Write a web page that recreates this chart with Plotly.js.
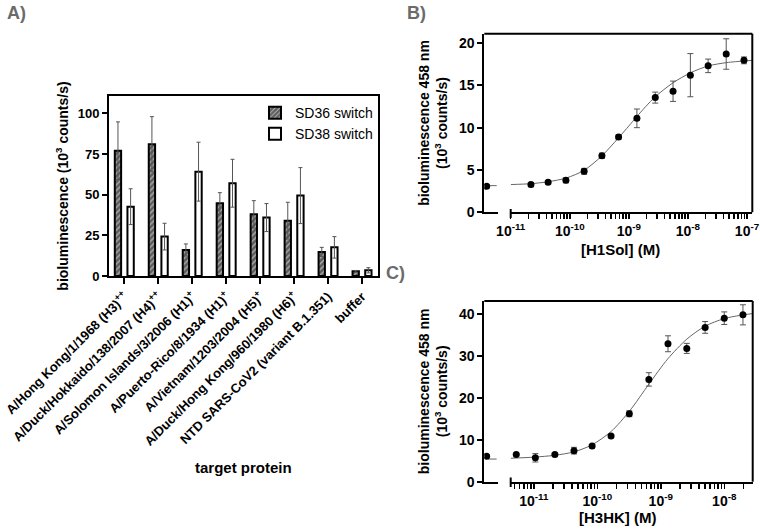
<!DOCTYPE html>
<html><head><meta charset="utf-8">
<script src="https://cdn.plot.ly/plotly-3.0.1.min.js"></script>
<style>html,body{margin:0;padding:0;background:#fff}#chart{width:760px;height:529px}</style>
</head><body><div id="chart"></div>
<script>
// ---------- Panel A data ----------
const categories = [
  "A/Hong Kong/1/1968 (H3)<sup>++</sup>",
  "A/Duck/Hokkaido/138/2007 (H4)<sup>++</sup>",
  "A/Solomon Islands/3/2006 (H1)<sup>+</sup>",
  "A/Puerto-Rico/8/1934 (H1)<sup>+</sup>",
  "A/Vietnam/1203/2004 (H5)<sup>+</sup>",
  "A/Duck/Hong Kong/960/1980 (H6)<sup>+</sup>",
  "NTD SARS-CoV2 (variant B.1.351)",
  "buffer"
];
const sd36 = [77, 81, 16, 44.7, 37.9, 34, 14.8, 2.9];
const sd36Err = [17.7, 16.9, 3.7, 6.5, 8.4, 11.3, 2.8, 0.5];
const sd38 = [42.6, 24.2, 64.1, 57, 35.9, 49.4, 17.6, 3.5];
const sd38Err = [11, 8.2, 18.1, 14.7, 8.6, 17.2, 6.6, 1.6];
const yTicksA = [0, 25, 50, 75, 100];

// ---------- Panel B data ([H1Sol]) ----------
const bZeroX = [0];
const bZeroSignal = [3.07];
const bZeroErr = [0.2];
const bConc = [2.2e-11, 4.3e-11, 8.6e-11, 1.75e-10, 3.5e-10, 6.7e-10, 1.37e-9, 2.8e-9, 5.6e-9, 1.1e-8, 2.2e-8, 4.45e-8, 8.9e-8];
const bSignal = [3.27, 3.54, 3.78, 4.84, 6.69, 8.9, 11.1, 13.55, 14.3, 16.2, 17.3, 18.7, 17.95];
const bErr = [0.25, 0.2, 0.3, 0.35, 0.3, 0.25, 1.1, 0.65, 1.2, 2.55, 0.8, 1.8, 0.4];
const bFitZeroX = [0.14, 0.86];
const bFitZeroY = [3.15, 3.15];
const bFitConc = [1e-11, 2.19e-11, 4.37e-11, 8.7e-11, 1.74e-10, 3.47e-10, 6.6e-10, 1e-9, 1.38e-9, 2.75e-9, 5.6e-9, 1.12e-8, 2.24e-8, 4.47e-8, 8.9e-8, 1.23e-7];
const bFitY = [3.28, 3.38, 3.62, 4.05, 4.95, 6.65, 8.75, 10.2, 11.35, 13.6, 15.3, 16.5, 17.3, 17.68, 17.88, 17.95];
const bTicks = [1e-11, 1e-10, 1e-9, 1e-8, 1e-7];
const bTickText = ["10<sup>-11</sup>", "10<sup>-10</sup>", "10<sup>-9</sup>", "10<sup>-8</sup>", "10<sup>-7</sup>"];
const yTicksB = [0, 5, 10, 15, 20];

// ---------- Panel C data ([H3HK]) ----------
const cZeroX = [0];
const cZeroSignal = [6.1];
const cZeroErr = [0.3];
const cConc = [5.3e-12, 1.06e-11, 2.15e-11, 4.3e-11, 8.3e-11, 1.65e-10, 3.2e-10, 6.5e-10, 1.3e-9, 2.57e-9, 5e-9, 1e-8, 1.97e-8];
const cSignal = [6.5, 5.7, 6.5, 7.4, 8.5, 10.9, 16.2, 24.4, 32.9, 31.8, 36.8, 39.0, 39.8];
const cErr = [0.3, 1.0, 0.3, 0.8, 0.4, 0.3, 0.7, 1.6, 1.9, 1.2, 1.4, 1.5, 2.4];
const cFitZeroX = [0.14, 0.86];
const cFitZeroY = [5.4, 5.4];
const cFitConc = [4.34e-12, 1e-11, 2.14e-11, 4.27e-11, 8.3e-11, 1.66e-10, 3.24e-10, 6.46e-10, 1.29e-9, 2.57e-9, 5e-9, 1e-8, 2e-8, 2.8e-8];
const cFitY = [5.6, 5.85, 6.3, 7.1, 8.8, 12.0, 16.9, 23.2, 29.3, 34.0, 37.1, 38.9, 39.8, 40.1];
const cTicks = [1e-11, 1e-10, 1e-9, 1e-8];
const cTickText = ["10<sup>-11</sup>", "10<sup>-10</sup>", "10<sup>-9</sup>", "10<sup>-8</sup>"];
const yTicksC = [0, 10, 20, 30, 40];

// ---------- styling / layout ----------
const FONT = "Liberation Sans, Arial, sans-serif";
const W = 760, H = 529;
const px = v => v / W;
const py = v => (H - v) / H;

// major decade ticks plus unlabeled minor log ticks (2..9 per decade)
function logTicks(majors, labels, fromExp, toExp) {
  const vals = majors.slice(), text = labels.slice();
  for (let e = fromExp; e <= toExp; e++) {
    for (let k = 2; k <= 9; k++) { vals.push(k * Math.pow(10, e)); text.push(""); }
  }
  return {vals, text};
}
const bLogTicks = logTicks(bTicks, bTickText, -11, -8);
const cLogTicks = logTicks(cTicks, cTickText, -12, -8);

const domA = {x: [px(109), px(378)], y: [py(276), py(96)]};
const domB = {x1: [px(484.3), px(498.3)], x2: [px(510.7), px(752.3)], y: [py(212.3), py(33.7)]};
const domC = {x1: [px(484.3), px(498.3)], x2: [px(510.7), px(752.7)], y: [py(481.7), py(301)]};
const rangeB = [-11, -6.91];
const rangeC = [-11.363, -7.552];

const errStyle = {type: "data", color: "#555", thickness: 1, width: 3};
const markerDot = {color: "black", size: 7};
const fitLine = {color: "#666", width: 1};

const traces = [
  {type: "bar", name: "SD36 switch", x: categories, y: sd36, xaxis: "x", yaxis: "y",
   marker: {color: "#5c5c5c", line: {color: "black", width: 2},
            pattern: {shape: "/", fillmode: "replace", bgcolor: "#5c5c5c", fgcolor: "#b4b4b4", size: 4, solidity: 0.3}},
   error_y: {type: "data", array: sd36Err, color: "#555", thickness: 1, width: 2}},
  {type: "bar", name: "SD38 switch", x: categories, y: sd38, xaxis: "x", yaxis: "y",
   marker: {color: "white", line: {color: "black", width: 2}},
   error_y: {type: "data", array: sd38Err, color: "#555", thickness: 1, width: 2}},

  // B
  {type: "scatter", mode: "lines", x: bFitZeroX, y: bFitZeroY, xaxis: "x2", yaxis: "y2", line: fitLine, showlegend: false, hoverinfo: "skip"},
  {type: "scatter", mode: "markers", x: bZeroX, y: bZeroSignal, xaxis: "x2", yaxis: "y2", marker: markerDot,
   error_y: Object.assign({array: bZeroErr}, errStyle), showlegend: false},
  {type: "scatter", mode: "lines", x: bFitConc, y: bFitY, xaxis: "x3", yaxis: "y2", line: Object.assign({shape: "spline", smoothing: 0.8}, fitLine), showlegend: false, hoverinfo: "skip"},
  {type: "scatter", mode: "markers", x: bConc, y: bSignal, xaxis: "x3", yaxis: "y2", marker: markerDot,
   error_y: Object.assign({array: bErr}, errStyle), showlegend: false},

  // C
  {type: "scatter", mode: "lines", x: cFitZeroX, y: cFitZeroY, xaxis: "x4", yaxis: "y3", line: fitLine, showlegend: false, hoverinfo: "skip"},
  {type: "scatter", mode: "markers", x: cZeroX, y: cZeroSignal, xaxis: "x4", yaxis: "y3", marker: markerDot,
   error_y: Object.assign({array: cZeroErr}, errStyle), showlegend: false},
  {type: "scatter", mode: "lines", x: cFitConc, y: cFitY, xaxis: "x5", yaxis: "y3", line: Object.assign({shape: "spline", smoothing: 0.8}, fitLine), showlegend: false, hoverinfo: "skip"},
  {type: "scatter", mode: "markers", x: cConc, y: cSignal, xaxis: "x5", yaxis: "y3", marker: markerDot,
   error_y: Object.assign({array: cErr}, errStyle), showlegend: false}
];

const tickFontBig = {family: FONT, size: 14, color: "black", weight: "bold"};
const baseAxis = {showgrid: false, zeroline: false, showline: true, linecolor: "black", linewidth: 2,
                  ticks: "outside", tickcolor: "black", tickwidth: 2, ticklen: 5, automargin: false, fixedrange: true};

function segAxis1(domain, anchor) {
  return Object.assign({}, baseAxis, {domain: domain, anchor: anchor, range: [-0.2, 1], showticklabels: false, ticks: ""});
}
function segAxis2(domain, anchor, range, t) {
  return Object.assign({}, baseAxis, {domain: domain, anchor: anchor, type: "log", range: range,
    tickmode: "array", tickvals: t.vals, ticktext: t.text, ticklen: 5, tickwidth: 1.5, tickfont: tickFontBig});
}

const layout = {
  width: W, height: H,
  margin: {l: 0, r: 0, t: 0, b: 0},
  paper_bgcolor: "white", plot_bgcolor: "rgba(0,0,0,0)",
  font: {family: FONT, color: "black"},
  barmode: "group", bargap: 0.255, bargroupgap: 0.5,
  showlegend: true,
  legend: {x: domA.x[1], xanchor: "right", y: domA.y[1] - 0.002, yanchor: "top",
           font: {family: FONT, size: 14, color: "black"}, bgcolor: "rgba(0,0,0,0)", tracegroupgap: 2},
  xaxis: Object.assign({}, baseAxis, {domain: domA.x, anchor: "y", range: [-0.45, 7.47], mirror: true,
           tickangle: -45, ticklen: 6, tickfont: {family: FONT, size: 13, color: "black", weight: "bold"}}),
  yaxis: Object.assign({}, baseAxis, {domain: domA.y, anchor: "x", range: [0, 110.6], mirror: true,
           tickmode: "array", tickvals: yTicksA, tickfont: {family: FONT, size: 13, color: "black", weight: "bold"},
           title: {text: "bioluminescence (10<sup>3</sup> counts/s)", standoff: 6, font: {family: FONT, size: 14, color: "black", weight: "bold"}}}),

  xaxis2: segAxis1(domB.x1, "y2"),
  xaxis3: segAxis2(domB.x2, "y2", rangeB, bLogTicks),
  yaxis2: Object.assign({}, baseAxis, {domain: domB.y, anchor: "x2", range: [0, 21.1],
           tickmode: "array", tickvals: yTicksB, tickfont: tickFontBig,
           title: {text: "bioluminescence 458 nm<br>(10<sup>3</sup> counts/s)", standoff: 8, font: {family: FONT, size: 14, color: "black", weight: "bold"}}}),

  xaxis4: segAxis1(domC.x1, "y3"),
  xaxis5: segAxis2(domC.x2, "y3", rangeC, cLogTicks),
  yaxis3: Object.assign({}, baseAxis, {domain: domC.y, anchor: "x4", range: [0, 43.1],
           tickmode: "array", tickvals: yTicksC, tickfont: tickFontBig,
           title: {text: "bioluminescence 458 nm<br>(10<sup>3</sup> counts/s)", standoff: 8, font: {family: FONT, size: 14, color: "black", weight: "bold"}}}),

  shapes: [
    {type: "line", xref: "paper", yref: "paper", x0: domB.x1[0], x1: domB.x2[1], y0: domB.y[1], y1: domB.y[1], line: {color: "black", width: 2}},
    {type: "line", xref: "paper", yref: "paper", x0: domB.x2[1], x1: domB.x2[1], y0: domB.y[0], y1: domB.y[1], line: {color: "black", width: 2}},
    {type: "line", xref: "paper", yref: "paper", x0: domB.x2[0], x1: domB.x2[0], y0: py(218), y1: py(209), line: {color: "black", width: 2}},
    {type: "line", xref: "paper", yref: "paper", x0: domC.x1[0], x1: domC.x2[1], y0: domC.y[1], y1: domC.y[1], line: {color: "black", width: 2}},
    {type: "line", xref: "paper", yref: "paper", x0: domC.x2[1], x1: domC.x2[1], y0: domC.y[0], y1: domC.y[1], line: {color: "black", width: 2}},
    {type: "line", xref: "paper", yref: "paper", x0: domC.x2[0], x1: domC.x2[0], y0: py(487), y1: py(477.5), line: {color: "black", width: 2}}
  ],

  annotations: [
    {text: "A)", xref: "paper", yref: "paper", x: px(5), y: py(13), xanchor: "left", yanchor: "middle", showarrow: false,
     font: {family: FONT, size: 18, color: "#6b6b6b", weight: "bold"}},
    {text: "B)", xref: "paper", yref: "paper", x: px(405), y: py(13), xanchor: "left", yanchor: "middle", showarrow: false,
     font: {family: FONT, size: 18, color: "#6b6b6b", weight: "bold"}},
    {text: "C)", xref: "paper", yref: "paper", x: px(384), y: py(273), xanchor: "left", yanchor: "middle", showarrow: false,
     font: {family: FONT, size: 18, color: "#6b6b6b", weight: "bold"}},
    {text: "target protein", xref: "paper", yref: "paper", x: px(243), y: py(467), xanchor: "center", yanchor: "middle", showarrow: false,
     font: {family: FONT, size: 15, color: "black", weight: "bold"}},
    {text: "[H1Sol] (M)", xref: "paper", yref: "paper", x: px(620), y: py(250), xanchor: "center", yanchor: "middle", showarrow: false,
     font: {family: FONT, size: 15, color: "black", weight: "bold"}},
    {text: "[H3HK] (M)", xref: "paper", yref: "paper", x: px(617), y: py(517), xanchor: "center", yanchor: "middle", showarrow: false,
     font: {family: FONT, size: 15, color: "black", weight: "bold"}}
  ]
};

Plotly.newPlot("chart", traces, layout, {staticPlot: true, displayModeBar: false});
</script>
</body></html>
